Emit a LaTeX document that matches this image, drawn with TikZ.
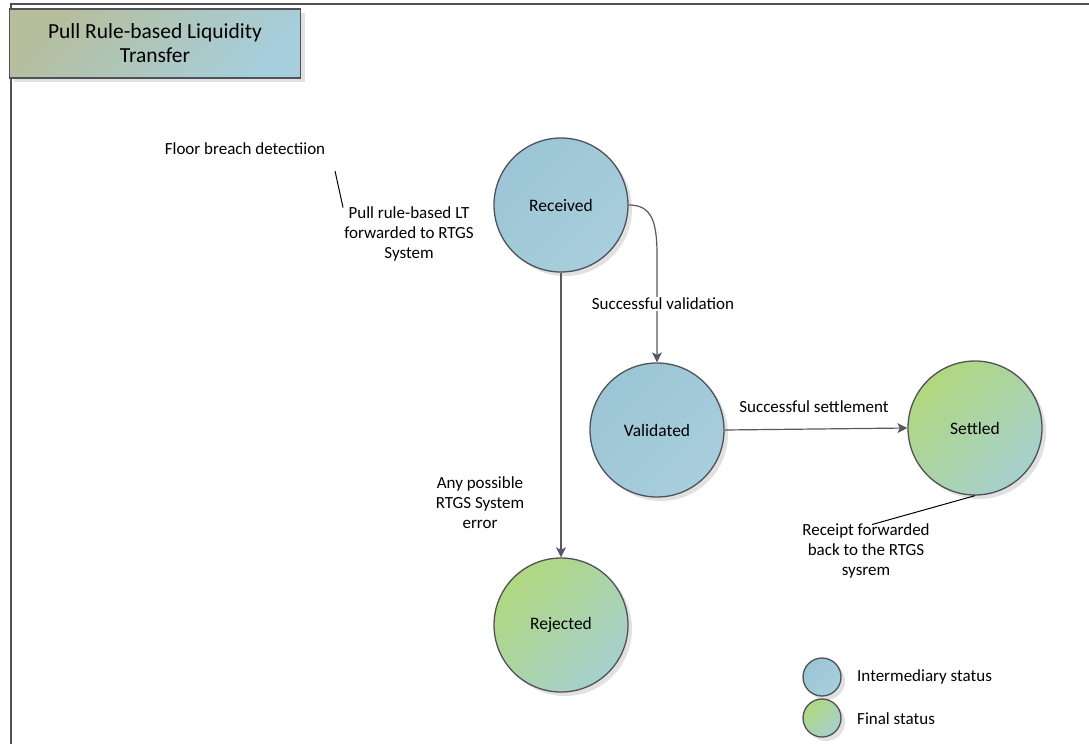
\documentclass[tikz,border=0pt]{standalone}
\usepackage{fontspec}
\setmainfont{Carlito}
\usetikzlibrary{arrows.meta}
\usetikzlibrary{shadows}
\usetikzlibrary{calc}
\definecolor{edge-gray}{RGB}{80,80,88}
\definecolor{arrow-gray}{RGB}{88,88,100}
\definecolor{blue-top}{RGB}{156,197,213}
\definecolor{blue-bottom}{RGB}{168,206,220}
\definecolor{green-top}{RGB}{176,216,126}
\definecolor{green-bottom}{RGB}{166,208,206}
\definecolor{title-top}{RGB}{182,190,156}
\definecolor{title-bottom}{RGB}{166,206,220}
\definecolor{shadow-gray}{gray}{0.87}
\tikzstyle{shadowed}=[drop shadow={shadow xshift=4pt,shadow yshift=-4pt,fill=shadow-gray,opacity=0.9}]
\tikzstyle{status}=[circle,draw=edge-gray,line width=1.3pt,minimum size=134pt,inner sep=0pt,font=\fontsize{17.5}{20}\selectfont,shadowed]
\tikzstyle{intermediary}=[status,top color=blue-top,bottom color=blue-bottom,shading angle=45]
\tikzstyle{final}=[status,top color=green-top,bottom color=green-bottom,shading angle=45]
\tikzstyle{legendblob}=[minimum size=38pt]
\tikzstyle{annot}=[align=center,inner sep=1pt,font=\fontsize{17}{20}\selectfont]
\tikzstyle{transition}=[draw=arrow-gray,line width=1.2pt,-{Stealth[length=10pt,width=10pt,inset=2.5pt]}]
\tikzstyle{note}=[draw=black,line width=1pt]

\begin{document}
\begin{tikzpicture}[x=1pt,y=-1pt]
	\useasboundingbox (0,0) rectangle (1089,744);
	% frame of the page
	\draw[edge-gray,line width=1.2pt] (11,744) -- (11,4) -- (1089,4);
	\node[rectangle,draw=edge-gray,line width=1.3pt,minimum width=291pt,minimum height=69pt,
	      top color=title-top,bottom color=title-bottom,shading angle=45,shadowed,
	      align=center,font=\fontsize{21.5}{24}\selectfont] (title) at (155,43.5) {Pull Rule-based Liquidity\\Transfer};

	% states
	\node[intermediary] (received) at (561,205) {Received};
	\node[intermediary] (validated) at (657,430) {Validated};
	\node[final] (settled) at (975,428) {Settled};
	\node[final] (rejected) at (561,625) {Rejected};

	% transitions
	\coordinate (bend) at (657,255);
	\draw[transition] (received.east) .. controls (651,205) and (657,220) .. (bend) -- (validated.north);
	\node[annot,fill=white] (validation) at (663,304) {Successful validation};
	\draw[transition] (received.south) -- (rejected.north);
	\node[annot] (error) at (480,503) {Any possible\\RTGS System\\error};
	\draw[transition] (validated.east) -- (settled.west);
	\node[annot] (settlement) at (814,407) {Successful settlement};

	% notes
	\node[annot] (floor) at (245,149) {Floor breach detectiion};
	\node[annot] (pull) at (409,234) {Pull rule-based LT\\forwarded to RTGS\\System};
	\coordinate (floorend) at (335,171);
	\draw[note] (floorend) -- ($(pull.north west)+(0,2)$);
	\node[annot] (receipt) at (866,551) {Receipt forwarded\\back to the RTGS\\sysrem};
	\draw[note] (settled.south) -- ($(receipt.north)+(6,2)$);

	% legend
	\node[intermediary,legendblob] (legendmid) at (822,677) {};
	\node[final,legendblob] (legendfinal) at (822,718) {};
	\node[annot,anchor=west] at (856,677) {Intermediary status};
	\node[annot,anchor=west] at (856,719) {Final status};
\end{tikzpicture}
\end{document}
